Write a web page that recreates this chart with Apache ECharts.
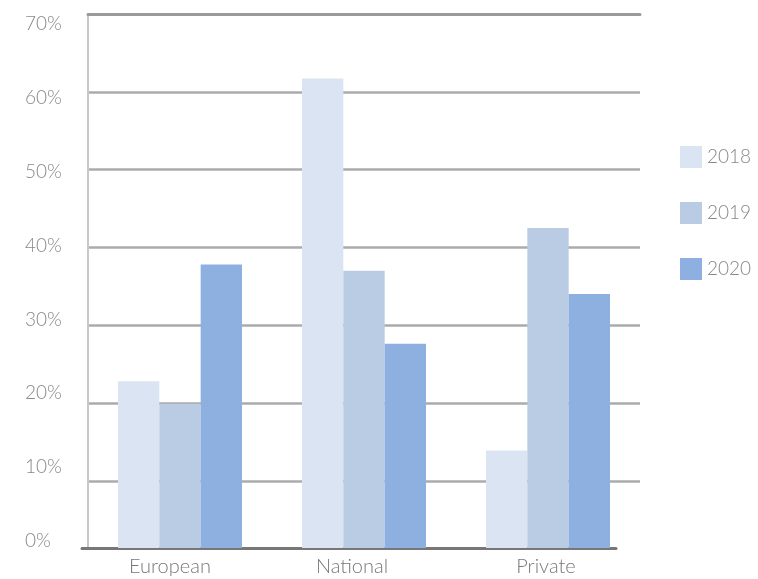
<!DOCTYPE html>
<html>
<head>
<meta charset="utf-8">
<script src="https://cdn.jsdelivr.net/npm/echarts@6/dist/echarts.min.js"></script>
<style>html,body{margin:0;padding:0;background:#fff}#c{width:758px;height:579px}</style>
</head>
<body>
<div id="c"></div>
<script>
const categories = ['European', 'National', 'Private'];
const seriesNames = ['2018', '2019', '2020'];
const values2018 = [22.8, 61.7, 13.9];
const values2019 = [19.9, 37.0, 42.5];
const values2020 = [37.8, 27.6, 34.0];
const yTicks = [0, 10, 20, 30, 40, 50, 60, 70];
const colors = ['#dbe4f2', '#b9cce4', '#8db0e0'];

const FONT = 'Lato';
const chart = echarts.init(document.getElementById('c'), null, {renderer: 'canvas'});
const allValues = [values2018, values2019, values2020];
// label nudges (style only): right padding shifts the label left by half of it
const labelRich = {
  c0: {padding: [0, 20, 0, 0]},
  c1: {padding: [0, 24, 0, 0]},
  c2: {padding: [0, 4, 0, 0]}
};

chart.setOption({
  animation: false,
  color: colors,
  grid: [
    {left: 88, right: 118, top: 14, bottom: 31},      // bars
    {left: 88, right: 118, top: 14, bottom: 20.4},    // gridlines
    {left: 88, right: 118, top: 24, bottom: 38},      // tick labels
    {left: 82, right: 142, top: 14, bottom: 31}       // x-axis line
  ],
  legend: {
    orient: 'vertical', left: 675, top: 141,
    itemWidth: 22, itemHeight: 22, itemGap: 34,
    icon: 'rect',
    data: seriesNames,
    textStyle: {fontFamily: FONT, fontWeight: 300, fontSize: 19, color: '#888', padding: [0, 0, 0, 0]}
  },
  xAxis: [
    {gridIndex: 0, type: 'category', data: categories,
     axisLine: {show: false}, axisTick: {show: false},
     axisLabel: {margin: 9, fontFamily: FONT, fontWeight: 300, fontSize: 20, color: '#777',
                 formatter: (v, i) => '{c' + i + '|' + v + '}',
                 rich: Object.fromEntries(Object.entries(labelRich).map(([k, s]) =>
                   [k, Object.assign({fontFamily: FONT, fontWeight: 300, fontSize: 20, color: '#777'}, s)]))}},
    {gridIndex: 1, type: 'category', data: categories, position: 'top',
     axisLine: {show: true, onZero: false, lineStyle: {color: '#9a9a9a', width: 3}},
     axisTick: {show: false}, axisLabel: {show: false}},
    {gridIndex: 2, type: 'category', data: categories, show: false},
    {gridIndex: 3, type: 'category', data: categories,
     axisLine: {show: true, onZero: false, lineStyle: {color: '#777', width: 3}},
     axisTick: {show: false}, axisLabel: {show: false}}
  ],
  yAxis: [
    {gridIndex: 0, type: 'value', min: 1.36, max: 70,
     splitLine: {show: false}, axisLabel: {show: false}, axisTick: {show: false},
     axisLine: {show: true, lineStyle: {color: '#c8c8c8', width: 2}}},
    {gridIndex: 1, type: 'value', min: yTicks[0], max: yTicks[yTicks.length - 1], interval: 10,
     axisLabel: {show: false}, axisTick: {show: false}, axisLine: {show: false},
     splitLine: {show: true, showMinLine: false, showMaxLine: false, lineStyle: {color: '#ababab', width: 2.5}}},
    {gridIndex: 2, type: 'value', min: yTicks[0], max: yTicks[yTicks.length - 1], interval: 10,
     splitLine: {show: false}, axisTick: {show: false}, axisLine: {show: false},
     axisLabel: {align: 'left', margin: 63, formatter: '{value}%',
                 fontFamily: FONT, fontWeight: 300, fontSize: 19, color: '#888'}},
    {gridIndex: 3, type: 'value', show: false}
  ],
  series: seriesNames.map((name, i) => ({
    name: name, type: 'bar', xAxisIndex: 0, yAxisIndex: 0,
    data: allValues[i], barGap: '0%', barCategoryGap: '32.6%',
    clip: true, itemStyle: {color: colors[i]}
  }))
});
</script>
</body>
</html>
